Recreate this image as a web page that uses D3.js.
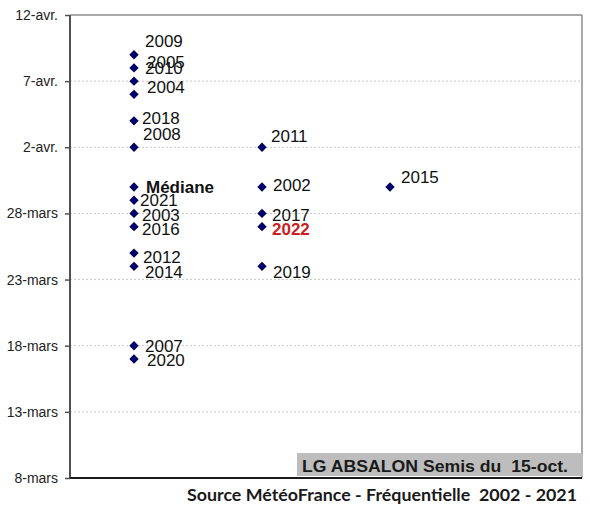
<!DOCTYPE html>
<html>
<head>
<meta charset="utf-8">
<script src="https://cdnjs.cloudflare.com/ajax/libs/d3/7.8.5/d3.min.js"></script>
<style>
  body { margin: 0; background: #fff; }
  svg { display: block; }
</style>
</head>
<body>
<div id="chart"></div>
<script>
// Données : année, colonne, date (jour-mois)
var annees   = ["2009", "2005", "2010", "2004", "2018", "2008", "Médiane", "2021", "2003", "2016", "2012", "2014", "2007", "2020",
                "2011", "2002", "2017", "2022", "2019",
                "2015"];
var colonnes = [1, 1, 1, 1, 1, 1, 1, 1, 1, 1, 1, 1, 1, 1,
                2, 2, 2, 2, 2,
                3];
var dates    = ["04-09", "04-08", "04-07", "04-06", "04-04", "04-02", "03-30", "03-29", "03-28", "03-27", "03-25", "03-24", "03-18", "03-17",
                "04-02", "03-30", "03-28", "03-27", "03-24",
                "03-30"];

// Graduations de l'axe Y
var ticks_dates  = ["03-08", "03-13", "03-18", "03-23", "03-28", "04-02", "04-07", "04-12"];
var ticks_labels = ["8-mars", "13-mars", "18-mars", "23-mars", "28-mars", "2-avr.", "7-avr.", "12-avr."];

// Décalage des étiquettes (placées à la main comme dans Excel)
var decalages = {
  "2009": [11, -14], "2005": [13, -6], "2010": [11, -13], "2004": [13, -7],
  "2018": [8, -3], "2008": [9, -13], "Médiane": [12, 0], "2021": [6, 0],
  "2003": [8, 1], "2016": [8, 2], "2012": [9, 4], "2014": [11, 6],
  "2007": [11, 0], "2020": [13, 1],
  "2011": [9, -11], "2002": [11, -2], "2017": [10, 1], "2022": [10, 2], "2019": [11, 6],
  "2015": [11, -10]
};

var parseJour = d3.timeParse("%Y-%m-%d");
function jour(s) { return parseJour("2022-" + s); }

var width = 590, height = 506;
var margin = {top: 15, right: 8, bottom: 28, left: 70};
var innerW = width - margin.left - margin.right;
var innerH = height - margin.top - margin.bottom;

var svg = d3.select("#chart").append("svg")
    .attr("width", width)
    .attr("height", height);

var g = svg.append("g")
    .attr("transform", "translate(" + margin.left + "," + margin.top + ")");

var xScale = d3.scaleLinear()
    .domain([0.5, 4.5])
    .range([0, innerW]);

var yScale = d3.scaleTime()
    .domain([jour(ticks_dates[0]), jour(ticks_dates[ticks_dates.length - 1])])
    .range([innerH, 0]);

// Grille pointillée
g.selectAll(".grid")
  .data(ticks_dates.slice(1, -1))
  .enter().append("line")
    .attr("class", "grid")
    .attr("x1", 0)
    .attr("x2", innerW)
    .attr("y1", d => yScale(jour(d)))
    .attr("y2", d => yScale(jour(d)))
    .attr("stroke", "#c8c8c8")
    .attr("stroke-width", 1)
    .attr("stroke-dasharray", "2,2");

// Cadre haut et droit
g.append("line")
    .attr("x1", 0).attr("x2", innerW)
    .attr("y1", 0).attr("y2", 0)
    .attr("stroke", "#8c8c8c").attr("stroke-width", 1.5);
g.append("line")
    .attr("x1", innerW).attr("x2", innerW)
    .attr("y1", 0).attr("y2", innerH)
    .attr("stroke", "#8c8c8c").attr("stroke-width", 1.5);

// Axe Y
var yAxis = d3.axisLeft(yScale)
    .tickValues(ticks_dates.map(jour))
    .tickFormat((d, i) => ticks_labels[i])
    .tickSize(5)
    .tickPadding(7);

var yAxisG = g.append("g")
    .attr("class", "y-axis")
    .call(yAxis);
yAxisG.select(".domain")
    .attr("stroke", "#505050")
    .attr("stroke-width", 2)
    .attr("d", "M0," + innerH + "V0");
yAxisG.selectAll(".tick line").attr("stroke", "#505050").attr("stroke-width", 1.5);
yAxisG.selectAll("text")
    .style("font-family", "Arial, 'Liberation Sans', sans-serif")
    .style("font-size", "14px")
    .attr("fill", "#222");

// Encadré gris
var boite = g.append("g").attr("transform", "translate(" + (297 - margin.left) + "," + (453 - margin.top) + ")");
boite.append("rect")
    .attr("width", 286)
    .attr("height", 23)
    .attr("fill", "#bdbdbd");
boite.append("text")
    .attr("x", 5)
    .attr("y", 19)
    .attr("textLength", 266)
    .attr("lengthAdjust", "spacingAndGlyphs")
    .style("white-space", "pre")
    .style("font-family", "Arial, 'Liberation Sans', sans-serif")
    .style("font-weight", "bold")
    .style("font-size", "16px")
    .attr("fill", "#1a1a1a")
    .text("LG ABSALON Semis du  15-oct.");

// Axe X (ligne du bas)
g.append("line")
    .attr("x1", 0).attr("x2", innerW)
    .attr("y1", innerH).attr("y2", innerH)
    .attr("stroke", "#1a1a1a").attr("stroke-width", 2);

// Points
var indices = d3.range(annees.length);
var losange = d3.symbol().type(d3.symbolSquare).size(44);

g.selectAll(".point")
  .data(indices)
  .enter().append("path")
    .attr("class", "point")
    .attr("d", losange)
    .attr("transform", i => "translate(" + xScale(colonnes[i]) + "," + yScale(jour(dates[i])) + ") rotate(45)")
    .attr("fill", "#000066");

// Etiquettes
g.selectAll(".etiquette")
  .data(indices)
  .enter().append("text")
    .attr("class", "etiquette")
    .attr("x", i => xScale(colonnes[i]) + decalages[annees[i]][0])
    .attr("y", i => yScale(jour(dates[i])) + decalages[annees[i]][1])
    .attr("dy", "0.36em")
    .style("font-family", "Arial, 'Liberation Sans', sans-serif")
    .style("font-size", "17px")
    .style("font-weight", i => (annees[i] === "Médiane" || annees[i] === "2022") ? "bold" : "normal")
    .attr("fill", i => annees[i] === "2022" ? "#cc2020" : "#111")
    .text(i => annees[i]);

// Source
svg.append("text")
    .attr("x", 187)
    .attr("y", 501)
    .attr("textLength", 390)
    .attr("lengthAdjust", "spacingAndGlyphs")
    .style("white-space", "pre")
    .style("font-family", "Lato, 'Open Sans', sans-serif")
    .style("font-weight", "bold")
    .style("font-size", "17px")
    .attr("fill", "#1a1a1a")
    .text("Source MétéoFrance - Fréquentielle  2002 - 2021");
</script>
</body>
</html>
